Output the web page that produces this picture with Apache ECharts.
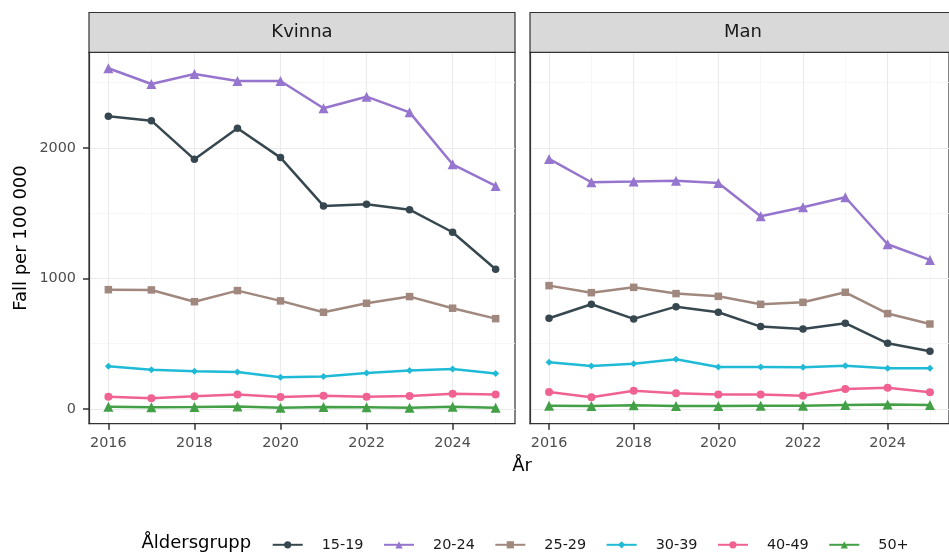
<!DOCTYPE html>
<html>
<head>
<meta charset="utf-8">
<script src="https://cdn.jsdelivr.net/npm/echarts@6/dist/echarts.min.js"></script>
<style>
  html, body { margin: 0; padding: 0; background: #fff; }
  #chart { width: 949px; height: 554px; }
</style>
</head>
<body>
<div id="chart"></div>
<script>
// data
var years = [2016, 2017, 2018, 2019, 2020, 2021, 2022, 2023, 2024, 2025];
var groups = ['15-19', '20-24', '25-29', '30-39', '40-49', '50+'];
var panels = ['Kvinna', 'Man'];
var xMajor = [2016, 2018, 2020, 2022, 2024];
var xMinor = [2017, 2019, 2021, 2023, 2025];
var yMajor = [0, 1000, 2000];
var yMinor = [500, 1500, 2500];

// Kvinna
var kvinna_15_19 = [2243, 2209, 1913, 2151, 1926, 1556, 1569, 1527, 1354, 1070];
var kvinna_20_24 = [2611, 2490, 2567, 2513, 2513, 2304, 2393, 2273, 1875, 1709];
var kvinna_25_29 = [914, 912, 822, 907, 828, 741, 810, 861, 772, 692];
var kvinna_30_39 = [327, 301, 289, 284, 243, 248, 276, 294, 307, 271];
var kvinna_40_49 = [94, 82, 97, 110, 92, 102, 94, 100, 117, 110];
var kvinna_50 = [16, 13, 15, 18, 9, 15, 14, 10, 17, 10];

// Man
var man_15_19 = [695, 802, 690, 784, 741, 631, 613, 657, 503, 442];
var man_20_24 = [1916, 1737, 1742, 1749, 1732, 1477, 1546, 1622, 1262, 1142];
var man_25_29 = [945, 891, 932, 884, 863, 802, 817, 894, 731, 651];
var man_30_39 = [358, 330, 347, 381, 322, 322, 319, 332, 312, 312];
var man_40_49 = [130, 89, 140, 120, 110, 110, 102, 153, 163, 128];
var man_50 = [25, 22, 28, 22, 22, 25, 25, 30, 35, 30];

var values = [
  [kvinna_15_19, kvinna_20_24, kvinna_25_29, kvinna_30_39, kvinna_40_49, kvinna_50],
  [man_15_19, man_20_24, man_25_29, man_30_39, man_40_49, man_50]
];

var colors = ['#37474F', '#9575CD', '#A1887F', '#1FBAD6', '#F06292', '#43A047'];
var symbols = ['circle', 'triangle', 'rect', 'diamond', 'circle', 'triangle'];
var sizes = [7.5, 10, 7.5, 7, 8, 10];

var FONT = 'DejaVu Sans';
var gridLeft = [89, 530];
var gridW = 426, gridTop = 52.3, gridH = 371.4;

function plain(v) { return String(v); }

var chart = echarts.init(document.getElementById('chart'));

var grids = [], xAxes = [], yAxes = [], series = [], graphics = [];

panels.forEach(function (p, i) {
  grids.push({
    left: gridLeft[i], top: gridTop, width: gridW, height: gridH,
    show: true, borderColor: '#333333', borderWidth: 1.2, backgroundColor: 'transparent'
  });
  // major x
  xAxes.push({
    type: 'value', gridIndex: i, min: 2015.55, max: 2025.45, position: 'bottom',
    axisLine: { show: true, onZero: false, lineStyle: { color: '#333333', width: 1.2 } },
    axisTick: { show: true, inside: false, length: 6, customValues: xMajor, lineStyle: { color: '#333333', width: 1.5 } },
    axisLabel: { customValues: xMajor, formatter: plain, color: '#4D4D4D', fontSize: 14.4, fontFamily: FONT, margin: 13 },
    splitLine: { show: true, lineStyle: { color: '#EBEBEB', width: 1.1 } }
  });
  // minor x
  xAxes.push({
    type: 'value', gridIndex: i, min: 2015.55, max: 2025.45, position: 'top',
    axisLine: { show: false, onZero: false },
    axisTick: { show: false, customValues: xMinor },
    axisLabel: { show: false },
    splitLine: { show: true, lineStyle: { color: '#F5F5F5', width: 0.8 } }
  });
  // major y
  yAxes.push({
    type: 'value', gridIndex: i, min: -113, max: 2733, position: 'left',
    axisLine: { show: true, onZero: false, lineStyle: { color: '#333333', width: 1.2 } },
    axisTick: { show: i === 0, inside: false, length: 6, customValues: yMajor, lineStyle: { color: '#333333', width: 1.5 } },
    axisLabel: { show: i === 0, customValues: yMajor, formatter: plain, color: '#4D4D4D', fontSize: 14.4, fontFamily: FONT, margin: 13 },
    splitLine: { show: true, lineStyle: { color: '#EBEBEB', width: 1.1 } }
  });
  // minor y
  yAxes.push({
    type: 'value', gridIndex: i, min: -113, max: 2733, position: 'right',
    axisLine: { show: false, onZero: false },
    axisTick: { show: false, customValues: yMinor },
    axisLabel: { show: false },
    splitLine: { show: true, lineStyle: { color: '#F5F5F5', width: 0.8 } }
  });

  groups.forEach(function (g, k) {
    series.push({
      name: g, type: 'line',
      xAxisIndex: i * 2, yAxisIndex: i * 2,
      data: years.map(function (y, j) { return [y, values[i][k][j]]; }),
      symbol: symbols[k], symbolSize: sizes[k], showSymbol: true,
      color: colors[k],
      lineStyle: { width: 2.5, color: colors[k] },
      itemStyle: { color: colors[k] },
      emphasis: { disabled: true },
      animation: false
    });
  });

  // strip
  graphics.push({
    type: 'rect', shape: { x: gridLeft[i], y: 12.5, width: gridW, height: 39.8 },
    style: { fill: '#D9D9D9', stroke: '#333333', lineWidth: 1.2 }, z: 10
  });
  graphics.push({
    type: 'text', x: gridLeft[i] + gridW / 2, y: 32.5, z: 11,
    style: { text: p, font: '18px "DejaVu Sans"', fill: '#1A1A1A',
      align: 'center', verticalAlign: 'middle', textAlign: 'center', textVerticalAlign: 'middle' }
  });
});

graphics.push({
  type: 'text', x: 21, y: 238, rotation: Math.PI / 2,
  style: { text: 'Fall per 100 000', font: '18px "DejaVu Sans"', fill: '#000',
    align: 'center', verticalAlign: 'middle', textAlign: 'center', textVerticalAlign: 'middle' }
});
graphics.push({
  type: 'text', x: 522, y: 466,
  style: { text: 'År', font: '18px "DejaVu Sans"', fill: '#000',
    align: 'center', verticalAlign: 'middle', textAlign: 'center', textVerticalAlign: 'middle' }
});
graphics.push({
  type: 'text', x: 141.5, y: 543,
  style: { text: 'Åldersgrupp', font: '18px "DejaVu Sans"', fill: '#000',
    align: 'left', verticalAlign: 'middle', textAlign: 'left', textVerticalAlign: 'middle' }
});

chart.setOption({
  animation: false,
  grid: grids,
  xAxis: xAxes,
  yAxis: yAxes,
  legend: {
    data: groups,
    left: 271.7, top: 537.8, padding: 0,
    itemWidth: 30, itemHeight: 9, itemGap: 19.5,
    selectedMode: false,
    textStyle: { fontFamily: FONT, fontSize: 14.4, color: '#1A1A1A', padding: [0, 0, 0, 14] }
  },
  graphic: graphics,
  series: series
});
</script>
</body>
</html>
